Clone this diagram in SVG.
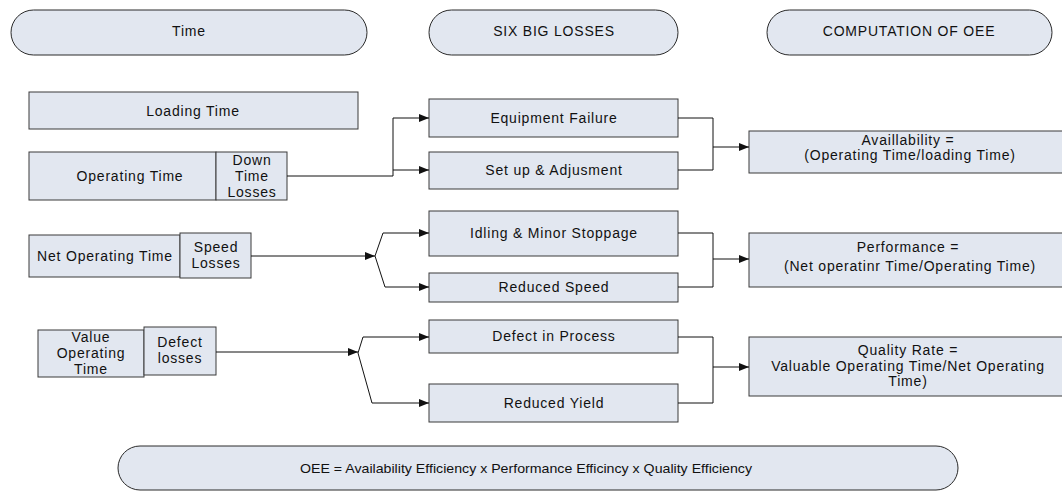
<svg xmlns="http://www.w3.org/2000/svg" width="1062" height="491" viewBox="0 0 1062 491">
<style>
.box{fill:#E2E7F0;stroke:#3a3a3a;stroke-width:1}
.pill{fill:#E2E7F0;stroke:#2a2a2a;stroke-width:1}
.t{font-family:"Liberation Sans",Arial,sans-serif;font-size:14px;letter-spacing:0.8px;fill:#111;text-anchor:middle;dominant-baseline:central}
.n{letter-spacing:0;font-size:13px}
.c{fill:none;stroke:#111;stroke-width:1}
</style>
<defs>
<marker id="ah" markerUnits="userSpaceOnUse" markerWidth="11" markerHeight="9" refX="10" refY="4" orient="auto">
<path d="M0,0 L10,4 L0,8 z" fill="#111"/>
</marker>
</defs>
<rect width="1062" height="491" fill="#fff"/>

<g id="hdr-time"><rect class="pill" x="11" y="10" width="356" height="45" rx="22.5"/><text class="t" x="189" y="31">Time</text></g>
<g id="hdr-six"><rect class="pill" x="429" y="10" width="249" height="45" rx="22.5"/><text class="t" x="554" y="31">SIX BIG LOSSES</text></g>
<g id="hdr-oee"><rect class="pill" x="767" y="10" width="285" height="45" rx="22.5"/><text class="t" x="909" y="31">COMPUTATION OF OEE</text></g>

<g id="loading"><rect class="box" x="29" y="92" width="329" height="37"/><text class="t" x="193" y="111">Loading Time</text></g>
<g id="operating"><rect class="box" x="29" y="152" width="187" height="48"/><text class="t" x="130" y="176">Operating Time</text></g>
<g id="downtime"><rect class="box" x="216" y="152" width="71" height="48"/><text class="t" x="252" y="160">Down</text><text class="t" x="252" y="176">Time</text><text class="t" x="252" y="192">Losses</text></g>
<g id="netop"><rect class="box" x="29" y="235" width="151" height="42"/><text class="t" x="105" y="256">Net Operating Time</text></g>
<g id="speed"><rect class="box" x="180" y="233" width="71" height="45"/><text class="t" x="216" y="247">Speed</text><text class="t" x="216" y="263">Losses</text></g>
<g id="valueop"><rect class="box" x="38" y="330" width="106" height="47"/><text class="t" x="91" y="337">Value</text><text class="t" x="91" y="353">Operating</text><text class="t" x="91" y="369">Time</text></g>
<g id="defect"><rect class="box" x="144" y="327" width="72" height="48"/><text class="t" x="180" y="342">Defect</text><text class="t" x="180" y="358">losses</text></g>

<g id="equip"><rect class="box" x="429" y="99" width="249" height="38"/><text class="t" x="554" y="118">Equipment Failure</text></g>
<g id="setup"><rect class="box" x="429" y="152" width="249" height="37"/><text class="t" x="554" y="170">Set up &amp; Adjusment</text></g>
<g id="idling"><rect class="box" x="429" y="211" width="249" height="45"/><text class="t" x="554" y="233">Idling &amp; Minor Stoppage</text></g>
<g id="redspeed"><rect class="box" x="429" y="273" width="249" height="29"/><text class="t" x="554" y="287">Reduced Speed</text></g>
<g id="defproc"><rect class="box" x="429" y="320" width="249" height="33"/><text class="t" x="554" y="336">Defect in Process</text></g>
<g id="redyield"><rect class="box" x="429" y="384" width="249" height="38"/><text class="t" x="554" y="403">Reduced Yield</text></g>

<g id="avail"><rect class="box" x="749" y="131" width="330" height="42"/><text class="t" x="908" y="140">Availlability =</text><text class="t" x="910" y="155">(Operating Time/loading Time)</text></g>
<g id="perf"><rect class="box" x="749" y="233" width="330" height="54"/><text class="t" x="908" y="247">Performance =</text><text class="t" x="910" y="266">(Net operatinr Time/Operating Time)</text></g>
<g id="quality"><rect class="box" x="749" y="337" width="330" height="59"/><text class="t" x="908" y="350">Quality Rate =</text><text class="t" x="908" y="366">Valuable Operating Time/Net Operating</text><text class="t" x="908" y="381">Time)</text></g>

<g id="oee"><rect class="pill" x="118" y="446" width="840" height="44" rx="22"/><text class="t n" x="526" y="468" textLength="452" lengthAdjust="spacingAndGlyphs">OEE = Availability Efficiency x Performance Efficincy x Quality Efficiency</text></g>

<g id="connectors">
<path class="c" d="M287,176 H393 V118 H429" marker-end="url(#ah)"/>
<path class="c" d="M393,170 H429" marker-end="url(#ah)"/>
<path class="c" d="M251,256 H375" marker-end="url(#ah)"/>
<path class="c" d="M375,256 L383,233 H429" marker-end="url(#ah)"/>
<path class="c" d="M375,256 L385,287 H429" marker-end="url(#ah)"/>
<path class="c" d="M216,352 H358" marker-end="url(#ah)"/>
<path class="c" d="M358,353 L363,337 H429" marker-end="url(#ah)"/>
<path class="c" d="M358,353 L372,403 H429" marker-end="url(#ah)"/>
<path class="c" d="M678,118 H713 V170 H678"/>
<path class="c" d="M713,147 H749" marker-end="url(#ah)"/>
<path class="c" d="M678,233 H713 V287 H678"/>
<path class="c" d="M713,259 H749" marker-end="url(#ah)"/>
<path class="c" d="M678,337 H713 V403 H678"/>
<path class="c" d="M713,367 H749" marker-end="url(#ah)"/>
</g>
</svg>
